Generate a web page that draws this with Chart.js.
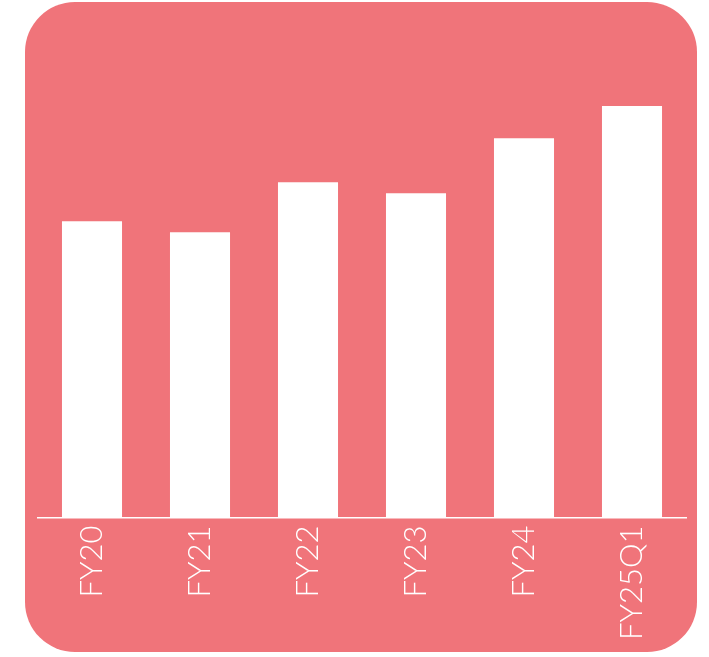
<!DOCTYPE html>
<html>
<head>
<meta charset="utf-8">
<script src="https://cdn.jsdelivr.net/npm/chart.js@4"></script>
<style>
	body { margin: 0; background: #fff; }
	#card {
		position: absolute;
		left: 25px;
		top: 2px;
		width: 672px;
		height: 650px;
		border-radius: 50px;
		background: #f0747a;
	}
	#wrap { position: absolute; left: 0; top: 0; width: 709px; height: 657px; }
</style>
</head>
<body>
<div id="card"></div>
<div id="wrap"><canvas id="chart" width="709" height="657"></canvas></div>
<script>
const labels = ['FY20', 'FY21', 'FY22', 'FY23', 'FY24', 'FY25Q1'];
const values = [29.6, 28.5, 33.5, 32.4, 37.9, 41.1];
const yMax = 48.7;

const ctx = document.getElementById('chart').getContext('2d');
const chart = new Chart(ctx, {
	type: 'bar',
	data: {
		labels,
		datasets: [
			{
				data: values,
				backgroundColor: '#ffffff',
				borderWidth: 0,
				categoryPercentage: 1,
				barPercentage: 0.556,
			},
		],
	},
	options: {
		responsive: false,
		animation: false,
		layout: { padding: { left: 38, right: 23, top: 30, bottom: 9 } },
		plugins: { legend: { display: false }, tooltip: { enabled: false } },
		scales: {
			x: {
				grid: { display: false, drawTicks: false },
				border: { color: '#ffffff', width: 1.5 },
				ticks: {
					color: '#ffffff',
					maxRotation: 90,
					minRotation: 90,
					padding: 8,
					font: { family: 'Lato', size: 31, weight: 300 },
				},
			},
			y: {
				display: false,
				min: 0,
				max: yMax,
			},
		},
	},
});
</script>
</body>
</html>
